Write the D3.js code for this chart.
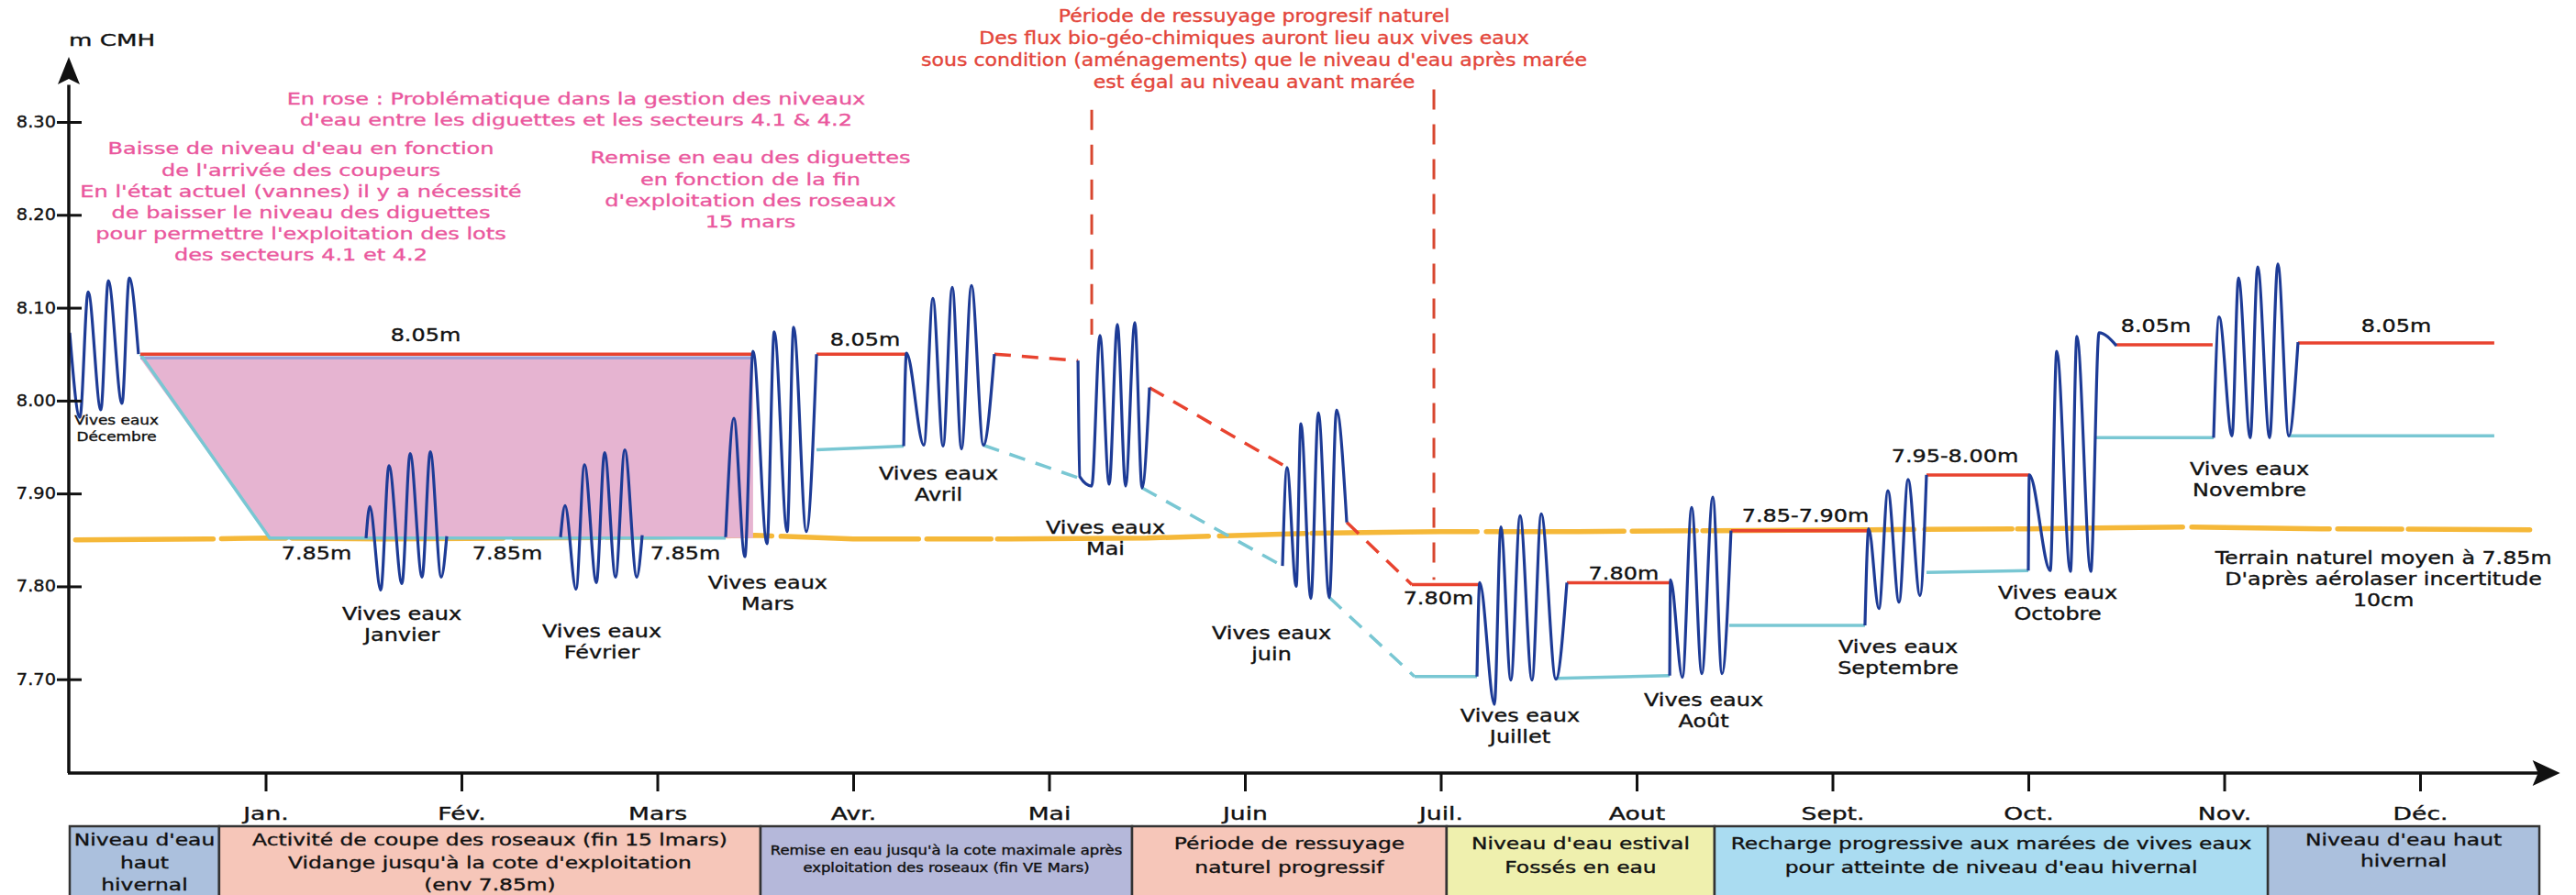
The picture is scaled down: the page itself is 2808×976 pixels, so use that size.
<!DOCTYPE html>
<html><head><meta charset="utf-8">
<script src="https://cdn.jsdelivr.net/npm/d3@7"></script>
<style>
body{margin:0;background:#fff}
svg{display:block}
text{font-family:"Comic Sans MS","DejaVu Sans",sans-serif;fill:#111;paint-order:stroke}
.cond{font-family:"DejaVu Sans Condensed","DejaVu Sans",sans-serif}
</style>
</head><body><svg id="c" width="2808" height="976"></svg>
<script>
// ---------- DATA ----------
const months = ["Jan.","Fév.","Mars","Avr.","Mai","Juin","Juil.","Aout","Sept.","Oct.","Nov.","Déc."];
const monthPos = [1,2,3,4,5,6,7,8,9,10,11,12];
const yTicks = [7.70,7.80,7.90,8.00,8.10,8.20,8.30];

// tidal oscillations (vives eaux): [month, level m CMH]
const tideDec = [[0,8.073],[0.052,7.982],[0.094,8.117],[0.159,7.990],[0.197,8.129],[0.267,7.997],[0.304,8.132],[0.351,8.050]];
const tideJan = [[1.513,7.852],[1.532,7.886],[1.588,7.796],[1.630,7.930],[1.696,7.803],[1.738,7.943],[1.799,7.810],[1.841,7.945],[1.897,7.810],[1.925,7.854]];
const tideFeb = [[2.506,7.853],[2.529,7.887],[2.585,7.797],[2.628,7.931],[2.689,7.804],[2.731,7.944],[2.787,7.810],[2.834,7.947],[2.895,7.810],[2.923,7.855]];
const tideMar = [[3.349,7.853],[3.391,7.981],[3.447,7.832],[3.489,8.053],[3.560,7.846],[3.597,8.074],[3.663,7.859],[3.696,8.079],[3.761,7.859],[3.813,8.050]];
const tideApr = [[4.258,7.951],[4.272,8.051],[4.361,7.952],[4.407,8.110],[4.459,7.951],[4.506,8.122],[4.553,7.948],[4.604,8.124],[4.665,7.952],[4.721,8.050]];
const tideMay = [[5.148,8.043],[5.157,7.918],[5.218,7.908],[5.260,8.070],[5.307,7.910],[5.349,8.082],[5.391,7.908],[5.438,8.084],[5.475,7.906],[5.513,8.014]];
const tideJun = [[6.192,7.822],[6.215,7.928],[6.262,7.800],[6.286,7.975],[6.337,7.787],[6.375,7.987],[6.431,7.788],[6.468,7.990],[6.520,7.869]];
const tideJul = [[7.185,7.703],[7.199,7.804],[7.274,7.673],[7.307,7.864],[7.358,7.699],[7.405,7.876],[7.466,7.699],[7.513,7.878],[7.588,7.700],[7.644,7.804]];
const tideAug = [[8.169,7.704],[8.173,7.807],[8.234,7.702],[8.281,7.885],[8.333,7.706],[8.389,7.896],[8.436,7.706],[8.482,7.860]];
const tideSep = [[9.166,7.758],[9.185,7.862],[9.237,7.776],[9.283,7.903],[9.340,7.783],[9.386,7.915],[9.447,7.790],[9.480,7.920]];
const tideOct = [[10.000,7.817],[10.005,7.920],[10.112,7.817],[10.145,8.053],[10.215,7.816],[10.248,8.069],[10.319,7.816],[10.361,8.073],[10.450,8.059]];
const tideNov = [[10.946,7.960],[10.974,8.090],[11.040,7.962],[11.073,8.132],[11.133,7.960],[11.171,8.144],[11.232,7.960],[11.274,8.147],[11.330,7.962],[11.377,8.063]];

// maximum level (red) and minimum level (teal) segments
const redSolid = [
  [[0.361,8.050],[3.489,8.050]],
  [[3.813,8.050],[4.267,8.050]],
  [[6.852,7.802],[7.199,7.802]],
  [[7.644,7.804],[8.173,7.804]],
  [[8.482,7.860],[9.185,7.860]],
  [[9.480,7.920],[10.005,7.920]],
  [[10.450,8.060],[10.941,8.060]],
  [[11.377,8.062],[12.379,8.062]]
];
const redDashed = [
  [[4.721,8.050],[5.148,8.043]],
  [[5.513,8.014],[6.215,7.928]],
  [[6.520,7.869],[6.852,7.802]]
];
const tealSolid = [
  [[0.361,8.046],[3.489,8.046]],
  [[0.361,8.050],[1.021,7.852],[3.349,7.852]],
  [[3.813,7.947],[4.258,7.951]],
  [[6.866,7.703],[7.185,7.703]],
  [[7.588,7.701],[8.169,7.704]],
  [[8.473,7.758],[9.166,7.758]],
  [[9.480,7.815],[10.000,7.817]],
  [[10.337,7.960],[10.946,7.960]],
  [[11.330,7.962],[12.379,7.962]]
];
const tealDashed = [
  [[4.665,7.952],[5.162,7.916]],
  [[5.475,7.906],[6.192,7.822]],
  [[6.431,7.788],[6.866,7.703]]
];
// problem zone (pink) between diguettes and sectors 4.1 / 4.2
const pinkZone = [[0.361,8.045],[3.489,8.045],[3.489,7.852],[1.021,7.852]];
// natural ground level (orange)
const terrain = [[0.03,7.850],[0.7,7.851],[1.0,7.852],[1.6,7.851],[2.3,7.852],[3.0,7.853],[3.5,7.855],[4.0,7.851],[4.8,7.851],[5.5,7.852],[6.3,7.857],[7.0,7.859],[7.7,7.859],[8.4,7.860],[9.2,7.861],[10.0,7.862],[10.8,7.864],[11.5,7.862],[12.56,7.861]];
// vertical dashed guides of the ressuyage period: [month, top, bottom]
const guides = [[5.218,8.313,8.071],[6.965,8.335,7.807]];

// level labels: [text, month, level] (text centre)
const levelLabels = [
  ["8.05m",1.817,8.071],["8.05m",4.061,8.066],
  ["7.85m",1.260,7.836],["7.85m",2.234,7.836],["7.85m",3.143,7.836],
  ["7.80m",6.988,7.787],["7.80m",7.934,7.814],
  ["7.85-7.90m",8.862,7.876],["7.95-8.00m",9.625,7.940],
  ["8.05m",10.651,8.080],["8.05m",11.878,8.080]
];
// "Vives eaux" labels: [month name, month, level]
const springLabels = [
  ["Janvier",1.696,7.770],["Février",2.717,7.752],["Mars",3.564,7.804],
  ["Avril",4.436,7.921],["Mai",5.288,7.863],["juin",6.136,7.750],
  ["Juillet",7.405,7.661],["Août",8.342,7.678],["Septembre",9.335,7.735],
  ["Octobre",10.150,7.793],["Novembre",11.129,7.926]
];
const decLabel = ["Vives eaux","Décembre"];
const decLabelPos = [0.239,7.979];

const noteRed = ["Période de ressuyage progresif naturel","Des flux bio-géo-chimiques auront lieu aux vives eaux","sous condition (aménagements) que le niveau d'eau après marée","est égal au niveau avant marée"];
const notePinkTop = ["En rose : Problématique dans la gestion des niveaux","d'eau entre les diguettes et les secteurs 4.1 & 4.2"];
const notePinkLeft = ["Baisse de niveau d'eau en fonction","de l'arrivée des coupeurs","En l'état actuel (vannes) il y a nécessité","de baisser le niveau des diguettes","pour permettre  l'exploitation des lots","des secteurs 4.1 et 4.2"];
const notePinkMid = ["Remise en eau des diguettes","en fonction de la fin","d'exploitation des roseaux","15 mars"];
const noteTerrain = ["Terrain naturel moyen à 7.85m","D'après aérolaser incertitude","10cm"];
const noteTerrainPos = [11.813,7.831];

// management periods (bottom band)
const bandEdges = [0,0.763,3.527,5.424,7.030,8.398,11.223,12.609];
const bandKinds = ["hiver","coupe","remise","ressuyage","estival","recharge","hiver"];
const bandTexts = [
  ["Niveau d'eau","haut","hivernal"],
  ["Activité de coupe des roseaux (fin 15 lmars)","Vidange jusqu'à la cote d'exploitation","(env 7.85m)"],
  ["Remise en eau jusqu'à la cote maximale après","exploitation des roseaux (fin VE Mars)"],
  ["Période de ressuyage","naturel progressif"],
  ["Niveau d'eau estival","Fossés en eau"],
  ["Recharge progressive aux marées de vives eaux","pour atteinte de niveau d'eau hivernal"],
  ["Niveau d'eau haut","hivernal"]
];

// ---------- DRAWING ----------
const svg = d3.select("#c");
const x = d3.scaleLinear().domain([0,13]).range([76,2851.5]);
const y = d3.scaleLinear().domain([7.60,8.30]).range([842,133]);
const seg = d3.line().x(d=>x(d[0])).y(d=>y(d[1]));
const area = d3.line().x(d=>x(d[0])).y(d=>y(d[1])).curve(d3.curveLinearClosed);
const wave = d3.line().x(d=>x(d[0])).y(d=>y(d[1])).curve(d3.curveMonotoneX);

const C = {red:"#e8432f", teal:"#79c7d3", blue:"#1d3b96", pink:"#e6b4d1", orange:"#f4b024",
  pinkText:"#ea579d", redText:"#e3453a", guide:"#d8462f"};
const bandFill = {hiver:"#abc0dd", coupe:"#f6c6b9", remise:"#b5b8da", ressuyage:"#f6c6b9", estival:"#eff0ae", recharge:"#aadcf1"};

// text helper: horizontally stretched like the source drawing, slightly heavier strokes
const txt = (parent,t,px,py,size,sx,fill,anchor,cls)=>parent.append("text").attr("class",cls||null)
  .attr("transform",`translate(${px},${py}) scale(${sx},1)`)
  .attr("text-anchor",anchor||"middle").attr("dominant-baseline","central")
  .style("font-size",size+"px").style("fill",fill||"#111")
  .style("stroke",fill||"#111").style("stroke-width","0.35px").text(t);

// bands
const bandTop = 901;
const bands = svg.append("g");
bandKinds.forEach((k,i)=>{
  const x0 = x(bandEdges[i]), x1 = x(bandEdges[i+1]);
  bands.append("rect").attr("x",x0).attr("y",bandTop).attr("width",x1-x0).attr("height",100)
    .attr("fill",bandFill[k]).attr("stroke","#333").attr("stroke-width",2.5);
  const small = k==="remise";
  const n = bandTexts[i].length;
  bandTexts[i].forEach((t,j)=>{
    const py = small ? 927+j*19 : (n===3 ? 916+j*24.5 : (i===6 ? 916+j*23 : 920+j*26));
    txt(bands,t,(x0+x1)/2,py,small?14.5:18,small?1.26:1.3,"#111","middle",small?"cond":null);
  });
});

// terrain naturel
svg.append("path").attr("d",seg(terrain)).attr("fill","none").attr("stroke",C.orange)
  .attr("stroke-width",5.5).attr("stroke-linecap","round").attr("opacity",0.9)
  .attr("stroke-dasharray","150,9,70,7,230,12,95,6,180,10");

// pink zone
svg.append("path").attr("d",area(pinkZone)).attr("fill",C.pink);

// teal + red
tealSolid.forEach((s,i)=>svg.append("path").attr("d",seg(s)).attr("fill","none").attr("stroke",i===0?"#9b9fd6":C.teal).attr("stroke-width",3.5));
tealDashed.forEach(s=>svg.append("path").attr("d",seg(s)).attr("fill","none").attr("stroke",C.teal).attr("stroke-width",3.5).attr("stroke-dasharray","18,12"));
redSolid.forEach(s=>svg.append("path").attr("d",seg(s)).attr("fill","none").attr("stroke",C.red).attr("stroke-width",3.5));
redDashed.forEach(s=>svg.append("path").attr("d",seg(s)).attr("fill","none").attr("stroke",C.red).attr("stroke-width",3.5).attr("stroke-dasharray","18,12"));

// tides
[tideDec,tideJan,tideFeb,tideMar,tideApr,tideMay,tideJun,tideJul,tideAug,tideSep,tideOct,tideNov].forEach(s=>
  svg.append("path").attr("d",wave(s)).attr("fill","none").attr("stroke",C.blue).attr("stroke-width",3.2).attr("stroke-linejoin","round"));

// guides
guides.forEach(g=>svg.append("line").attr("x1",x(g[0])).attr("x2",x(g[0])).attr("y1",y(g[1])).attr("y2",y(g[2]))
  .attr("stroke",C.guide).attr("stroke-width",3).attr("stroke-dasharray","22,16"));

// labels
const lab = svg.append("g");
levelLabels.forEach(l=>txt(lab,l[0],x(l[1]),y(l[2]),19,1.26));
springLabels.forEach(l=>{ txt(lab,"Vives eaux",x(l[1]),y(l[2]),19,1.26); txt(lab,l[0],x(l[1]),y(l[2])+23,19,1.26); });
decLabel.forEach((t,j)=>txt(lab,t,x(decLabelPos[0]),y(decLabelPos[1])+j*18,13.5,1.25));
noteTerrain.forEach((t,j)=>txt(lab,t,x(noteTerrainPos[0]),y(noteTerrainPos[1])+j*23,19,1.25));
noteRed.forEach((t,j)=>txt(lab,t,1367,18+j*24,19,1.16,C.redText));
notePinkTop.forEach((t,j)=>txt(lab,t,628,108+j*22.5,18.5,1.3,C.pinkText));
notePinkLeft.forEach((t,j)=>txt(lab,t,328,162+j*23.2,18.5,1.3,C.pinkText));
notePinkMid.forEach((t,j)=>txt(lab,t,818,172+j*23.3,18.5,1.3,C.pinkText));

// y axis
const ysx = 1.14;
const yAx = svg.append("g").attr("transform","translate(75,0)")
  .call(d3.axisLeft(y).tickValues(yTicks).tickFormat(d3.format(".2f")).tickSize(13).tickPadding(3));
yAx.select(".domain").remove();
yAx.selectAll(".tick line").attr("x1",-13).attr("x2",14).attr("stroke","#111").attr("stroke-width",3);
yAx.selectAll(".tick text").attr("x",-14/ysx).attr("dy","0.32em").attr("transform",`scale(${ysx},1)`)
  .style("font-size","17px").style("font-family",null).style("stroke","#111").style("stroke-width","0.35px");
svg.append("line").attr("x1",75).attr("x2",75).attr("y1",y(7.60)+1).attr("y2",y(8.34)).attr("stroke","#111").attr("stroke-width",3.5);
svg.append("path").attr("d",`M75,${y(8.37)} L63,${y(8.37)+30} L75,${y(8.37)+24} L87,${y(8.37)+30}Z`).attr("fill","#111");
txt(svg,"m CMH",75,44,18,1.45,"#111","start");

// x axis
const xsx = 1.4;
const xAx = svg.append("g").attr("transform",`translate(0,${y(7.60)+1})`)
  .call(d3.axisBottom(x).tickValues(monthPos).tickFormat((d,i)=>months[i]).tickSize(20).tickPadding(10));
xAx.select(".domain").remove();
xAx.selectAll(".tick line").attr("stroke","#111").attr("stroke-width",3);
xAx.selectAll(".tick text").attr("y",44).attr("dy","0.35em").attr("transform",`scale(${xsx},1)`)
  .style("font-size","19px").style("font-family",null).style("stroke","#111").style("stroke-width","0.35px");
svg.append("line").attr("x1",74).attr("x2",x(12.68)).attr("y1",y(7.60)+1).attr("y2",y(7.60)+1).attr("stroke","#111").attr("stroke-width",3.5);
const ax = x(12.715), ay = y(7.60)+1;
svg.append("path").attr("d",`M${ax},${ay} L${ax-30},${ay-14} L${ax-24},${ay} L${ax-30},${ay+14}Z`).attr("fill","#111");
</script>
</body></html>
